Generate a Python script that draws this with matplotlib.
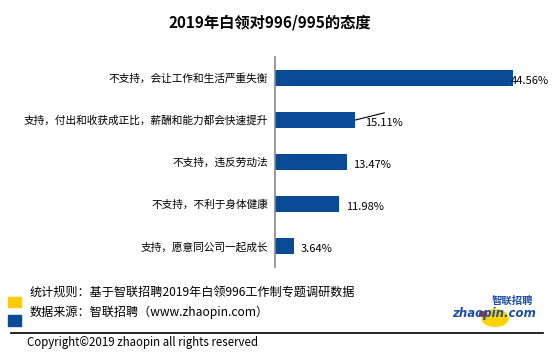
import matplotlib
matplotlib.use('Agg')
import matplotlib.pyplot as plt
from matplotlib.patches import Rectangle, Circle

plt.rcParams['font.family'] = ['Noto Sans CJK SC', 'DejaVu Sans']

title = '2019年白领对996/995的态度'
labels = ['不支持，会让工作和生活严重失衡',
          '支持，付出和收获成正比，薪酬和能力都会快速提升',
          '不支持，违反劳动法',
          '不支持，不利于身体健康',
          '支持，愿意同公司一起成长']
values = [44.56, 15.11, 13.47, 11.98, 3.64]
note1 = '统计规则：基于智联招聘2019年白领996工作制专题调研数据'
note2 = '数据来源：智联招聘（www.zhaopin.com）'
copyright_text = 'Copyright©2019 zhaopin all rights reserved'

blue = '#0a4b98'
yellow = '#ffcc00'

W, H = 554, 359
fig = plt.figure(figsize=(W / 100, H / 100), dpi=100)
ax = fig.add_axes([274.7 / W, (H - 267) / H, 267 / W, 210 / H])

pos = list(range(len(values)))
ax.barh(pos, values, height=0.4, color=blue)
ax.set_xlim(0, 50)
ax.set_ylim(len(values) - 0.5, -0.5)
ax.set_yticks(pos)
ax.set_yticklabels(labels, fontsize=7.7)
ax.tick_params(axis='y', length=0, pad=4.8)
ax.set_xticks([])
for s in ['top', 'right', 'bottom']:
    ax.spines[s].set_visible(False)
ax.spines['left'].set_color('#888888')
ax.spines['left'].set_linewidth(1.2)

for i, v in enumerate(values):
    dx = 5
    if i == 0:
        dx = -1.5
    elif i == 1:
        dx = 7
        ax.plot([v, v + 5.4], [i, i - 0.17], color='black', lw=0.8)
    ax.annotate('%.2f%%' % v, xy=(v, i), xytext=(dx, -2),
                textcoords='offset points', ha='left', va='center',
                fontsize=8, color='black')

fig.text(270 / W, 1 - 23 / H, title, ha='center', va='center',
         fontsize=11, fontweight='bold')

# footer
fig.patches.append(Rectangle((8.3 / W, 1 - 307 / H), 12.7 / W, 10 / H,
                             transform=fig.transFigure, color=yellow))
fig.patches.append(Rectangle((8.3 / W, 1 - 326 / H), 12.7 / W, 11 / H,
                             transform=fig.transFigure, color=blue))
fig.text(30 / W, 1 - 292.7 / H, note1, ha='left', va='center', fontsize=8.7)
fig.text(30 / W, 1 - 312.7 / H, note2, ha='left', va='center', fontsize=8.7)
fig.add_artist(plt.Line2D([11 / W, 543 / W], [1 - 332.7 / H, 1 - 332.7 / H],
                          transform=fig.transFigure, color='black', lw=1.2))
fig.text(27 / W, 1 - 342.7 / H, copyright_text, ha='left', va='center',
         fontsize=8.3)

# logo
fig.patches.append(Circle((495 / W, 1 - 318 / H), 13 / W,
                          transform=fig.transFigure, color='#ffd200'))
fig.text(494 / W, 1 - 314 / H, 'zhaopin.com', ha='center', va='center',
         fontsize=8.5, fontweight='bold', style='italic', color='#1e50a2',
         family='DejaVu Sans')
fig.patches.append(Circle((483 / W, 1 - 314 / H), 3.5 / W,
                          transform=fig.transFigure, color='#d02020'))
fig.text(512 / W, 1 - 301 / H, '智联招聘', ha='center', va='center',
         fontsize=7.5, fontweight='bold', style='italic', color='#1e50a2')

fig.savefig('out.png', dpi=100)
